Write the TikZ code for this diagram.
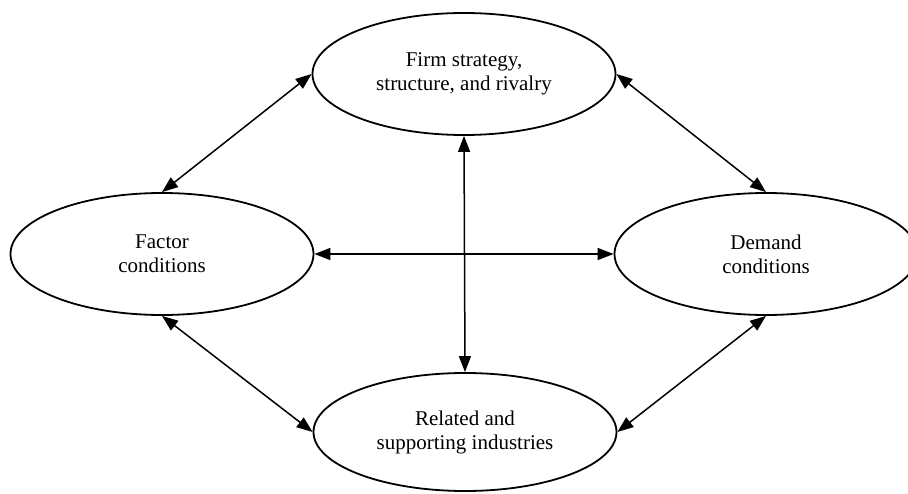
\documentclass[tikz,border=0pt]{standalone}
\usepackage{fontspec}
\setmainfont{Liberation Serif}
\usetikzlibrary{shapes.geometric,arrows.meta}
\begin{document}
\begin{tikzpicture}[x=1pt,y=-1pt,
  force/.style={ellipse,draw,line width=1.8pt,minimum width=303pt,minimum height=122pt,inner sep=0pt,
    align=center,font=\fontsize{21}{24}\selectfont},
  link/.style={line width=1.5pt,{Triangle[length=16pt,width=12pt]}-{Triangle[length=16pt,width=12pt]}}]
\useasboundingbox (0,0) rectangle (908,494);
\node[force] (firm) at (464,74) {\raisebox{-3pt}{\begin{tabular}{@{}c@{}}Firm strategy,\\structure, and rivalry\end{tabular}}};
\node[force] (factor) at (162,254) {Factor\\conditions};
\node[force] (demand) at (766,254) {Demand\\conditions};
\node[force,minimum height=118pt] (related) at (465,432) {Related and\\supporting industries};
\draw[link] (firm.west) -- (factor.north);
\draw[link] (firm.east) -- (demand.north);
\draw[link] (factor.south) -- (related.west);
\draw[link] (demand.south) -- (related.east);
\draw[link] (factor.east) -- (demand.west);
\draw[link] (firm.south) -- (related.north);
\end{tikzpicture}
\end{document}
